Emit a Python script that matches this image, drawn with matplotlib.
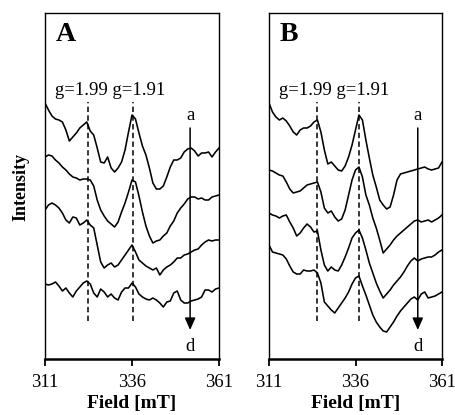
import numpy as np
from matplotlib import pyplot as plt
import matplotlib

# Times 风格字体
matplotlib.rcParams["font.family"] = "serif"
matplotlib.rcParams["font.serif"] = ["Liberation Serif", "DejaVu Serif"]

# 磁场范围 311~361 mT，每 1 mT 取一个点
field = np.arange(311, 362, 1)

# A 组的四条谱线 a,b,c,d（纵坐标为任意单位，已经加了偏移）
A_a = [297, 290, 284, 281, 280, 278, 270, 259, 263, 267,
       272, 275, 278, 269, 265, 252, 238, 237, 243, 232,
       228, 232, 238, 250, 268, 285, 281, 267, 254, 245,
       232, 217, 211, 211, 214, 223, 233, 240, 240, 242,
       248, 251, 252, 249, 244, 247, 247, 248, 243, 248, 252]
A_b = [243, 245, 244, 240, 237, 233, 230, 226, 223, 222,
       220, 221, 221, 220, 214, 200, 190, 184, 179, 176,
       173, 178, 188, 197, 208, 220, 218, 204, 188, 174,
       164, 157, 159, 160, 164, 167, 174, 179, 187, 192,
       196, 201, 203, 203, 201, 202, 200, 200, 203, 204, 205]
A_c = [190, 195, 197, 195, 192, 187, 180, 177, 183, 182,
       175, 177, 180, 175, 172, 155, 138, 132, 135, 137,
       133, 135, 140, 145, 150, 155, 148, 140, 137, 134,
       132, 130, 132, 125, 130, 133, 135, 138, 142, 142,
       145, 146, 148, 150, 151, 155, 158, 160, 159, 160, 160]
A_d = [116, 115, 116, 118, 114, 109, 112, 107, 103, 109,
       113, 117, 119, 116, 107, 103, 111, 108, 103, 106,
       102, 100, 108, 112, 112, 117, 113, 106, 103, 101,
       100, 102, 100, 97, 93, 98, 99, 107, 109, 100,
       97, 97, 99, 100, 101, 103, 110, 110, 108, 111, 112]

# B 组的四条谱线
B_a = [297, 288, 283, 280, 282, 279, 274, 268, 265, 270,
       272, 272, 274, 278, 280, 268, 250, 236, 238, 234,
       230, 229, 234, 243, 255, 270, 285, 280, 260, 242,
       225, 213, 200, 195, 191, 193, 205, 220, 226, 227,
       228, 229, 230, 231, 232, 233, 231, 230, 231, 232, 238]
B_b = [230, 229, 227, 225, 224, 218, 211, 207, 208, 209,
       212, 215, 216, 217, 218, 208, 192, 187, 189, 183,
       179, 181, 190, 205, 220, 230, 233, 223, 205, 195,
       182, 172, 160, 147, 151, 155, 160, 164, 167, 170,
       173, 176, 179, 180, 178, 179, 180, 178, 180, 182, 185]
B_c = [187, 185, 184, 182, 184, 185, 178, 172, 164, 167,
       172, 176, 173, 168, 169, 150, 135, 129, 133, 130,
       129, 135, 143, 152, 162, 167, 170, 162, 150, 137,
       127, 117, 109, 102, 106, 110, 115, 119, 123, 128,
       134, 139, 142, 139, 141, 142, 143, 143, 145, 148, 150]
B_d = [155, 148, 147, 146, 145, 141, 134, 128, 126, 126,
       130, 129, 129, 130, 127, 117, 98, 94, 90, 87,
       92, 97, 102, 108, 116, 122, 124, 114, 105, 95,
       85, 78, 73, 69, 68, 73, 78, 84, 89, 93,
       97, 101, 103, 100, 106, 108, 102, 103, 104, 106, 108]

# g=1.99 和 g=1.91 的位置 (mT)
A_g = [323.4, 336.3]
B_g = [324.9, 337.1]
# a->d 箭头所在的磁场位置
A_arrow = 352.7
B_arrow = 354.0

xticks = [311, 336, 361]
panels = ["A", "B"]


def draw(ax, curves, gpos, xarrow, name):
    for y in curves:
        ax.plot(field, y, color="k", lw=1.15)

    # 两条 g 值虚线
    ax.vlines(gpos, 79, 298, colors="k", lw=1.1, linestyles=(0, (3.5, 2.2)))
    ax.text(313.9, 310, "g=1.99 g=1.91", fontsize=13.5, va="center", ha="left")

    # a -> d 的箭头
    ax.annotate("", xy=(xarrow, 70), xytext=(xarrow, 272),
                arrowprops=dict(arrowstyle="-|>,head_length=0.45,head_width=0.2",
                                color="k", lw=1.1, mutation_scale=16,
                                shrinkA=0, shrinkB=0))
    ax.text(xarrow, 285, "a", fontsize=13.5, ha="center", va="center")
    ax.text(xarrow, 54, "d", fontsize=13.5, ha="center", va="center")

    ax.text(314, 366, name, fontsize=20, fontweight="bold", ha="left", va="center")

    ax.set_xlim(311, 361)
    ax.set_ylim(41, 387)
    ax.set_xticks(xticks)
    ax.set_yticks([])
    ax.tick_params(axis="x", direction="out", length=5, width=1.3,
                   labelsize=13.5, pad=6)
    ax.set_xlabel("Field [mT]", fontsize=14, fontweight="bold", labelpad=3)
    for s in ["left", "right", "top"]:
        ax.spines[s].set_linewidth(1.0)
    ax.spines["bottom"].set_linewidth(1.8)


fig = plt.figure(figsize=(4.56, 4.15), dpi=100)
axA = fig.add_axes([45 / 456, 56 / 415, 174 / 456, 346 / 415])
axB = fig.add_axes([269 / 456, 56 / 415, 173 / 456, 346 / 415])

draw(axA, [A_a, A_b, A_c, A_d], A_g, A_arrow, panels[0])
draw(axB, [B_a, B_b, B_c, B_d], B_g, B_arrow, panels[1])

fig.text(21 / 456, 1 - 187 / 415, "Intensity", rotation=90, fontsize=13,
         fontweight="bold", ha="center", va="center")

plt.savefig("out.png", dpi=100)
